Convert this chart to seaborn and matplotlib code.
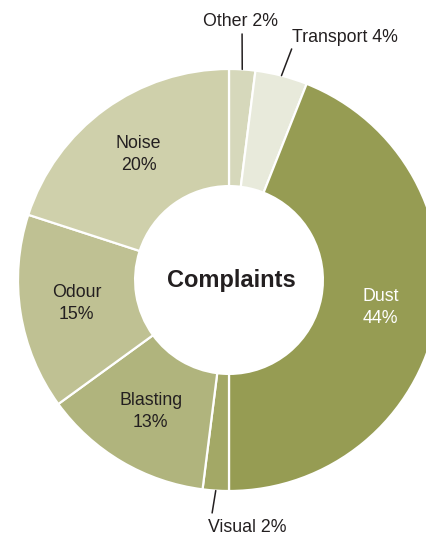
import numpy as np
import matplotlib
matplotlib.use("Agg")
import matplotlib.pyplot as plt
import seaborn as sns

# ---- Data ----
categories = ["Other", "Transport", "Dust", "Visual", "Blasting", "Odour", "Noise"]
shares = [2, 4, 44, 2, 13, 15, 20]
colors = ["#d6d8bb", "#e8eadb", "#969c53", "#a3a866", "#b0b47d", "#bfc193", "#cfd0ab"]
inside = ["Dust", "Blasting", "Odour", "Noise"]
outside = ["Other", "Transport", "Visual"]

sns.set_theme(style="white")
plt.rcParams["font.family"] = ["Liberation Sans", "DejaVu Sans"]

dark = "#231f20"
font_size = 12.8

fig = plt.figure(figsize=(4.27, 5.35), dpi=100)
# pie centre at (229, 280) px, outer radius 211 px
R = 211
ax = fig.add_axes([(229 - R) / 427, (535 - 280 - R) / 535, 2 * R / 427, 2 * R / 535])

wedges, _ = ax.pie(
    shares,
    colors=colors,
    startangle=90,
    counterclock=False,
    radius=1.0,
    wedgeprops=dict(width=0.555, edgecolor="white", linewidth=1.6),
)
ax.set_xlim(-1, 1)
ax.set_ylim(-1, 1)
ax.set_aspect("equal")
ax.axis("off")

# labels inside the ring
for w, cat, val in zip(wedges, categories, shares):
    if cat not in inside:
        continue
    mid = np.deg2rad((w.theta1 + w.theta2) / 2)
    r = 0.73
    ax.text(r * np.cos(mid), r * np.sin(mid) + 0.005, f"{cat}\n{val}%",
            ha="center", va="center", fontsize=font_size, linespacing=1.38,
            color="white" if cat == "Dust" else dark)

# labels outside with leader lines (line end, text anchor, alignment)
leaders = {
    "Other": ((0.062, 1.166), (0.054, 1.223), "center"),
    "Transport": ((0.297, 1.095), (0.297, 1.147), "left"),
    "Visual": ((-0.080, -1.104), (-0.100, -1.175), "left"),
}
for w, cat, val in zip(wedges, categories, shares):
    if cat not in outside:
        continue
    mid = np.deg2rad((w.theta1 + w.theta2) / 2)
    (lx, ly), (tx, ty), ha = leaders[cat]
    ax.plot([np.cos(mid), lx], [np.sin(mid), ly], color=dark, lw=1.1,
            clip_on=False)
    ax.text(tx, ty, f"{cat} {val}%", ha=ha, va="center", fontsize=font_size,
            color=dark, clip_on=False)

ax.text(0.01, 0.0, "Complaints", ha="center", va="center", fontsize=17,
        fontweight="bold", color=dark)

fig.savefig("out.png", dpi=100)
